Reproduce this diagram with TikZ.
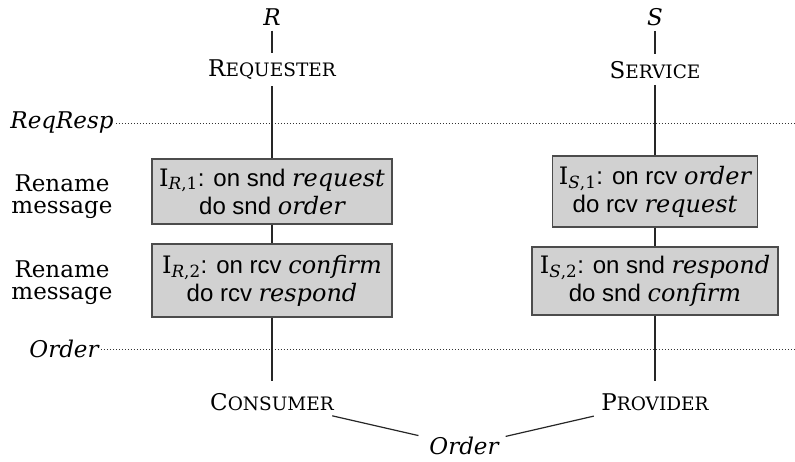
\documentclass[tikz,border=0pt]{standalone}
\usepackage{fontspec}
\setmainfont{DejaVu Serif}
\newfontfamily\sansf{Liberation Sans}
\newcommand\msgw[1]{{\rmfamily\itshape #1}}
\newcommand\fsc[2]{#1{\fontsize{18.5}{20}\selectfont #2}}
\begin{document}
\begin{tikzpicture}[x=1pt,y=-1pt,
  every node/.style={font=\fontsize{23}{22}\selectfont, inner sep=2pt},
  lane/.style={line width=1.2pt, draw=black!85},
  sep/.style={line width=1pt, draw=black!80, dash pattern=on 1pt off 2pt},
  ibox/.style={draw=black!70, line width=1.2pt, fill=black!18, align=center,
    font=\sansf\fontsize{24}{28}\selectfont, inner sep=0pt},
  side/.style={align=center, font=\fontsize{23}{22}\selectfont}]
\useasboundingbox (0,0) rectangle (795,461);
% layer labels and separators
\node (rr) at (62,123) {\itshape ReqResp};
\coordinate (rrend) at (795,123);
\draw[sep] (rr.east) -- (rrend);
\node (ol) at (64,349) {\itshape Order};
\coordinate (olend) at (795,349);
\draw[sep] (ol.east) -- (olend);
% left column
\node (R) at (272,17) {\itshape R};
\node (req) at (272,70) {\fsc{R}{EQUESTER}};
\node[ibox, minimum width=240pt, minimum height=65pt] (r1) at (272,191.5)
  {{\rmfamily I\textsubscript{\itshape R\upshape ,1}}: on snd \msgw{request}\\ do snd \msgw{order}};
\node[ibox, minimum width=240pt, minimum height=73pt] (r2) at (272,280.5)
  {{\rmfamily I\textsubscript{\itshape R\upshape ,2}}: on rcv \msgw{confirm}\\ do rcv \msgw{respond}};
\node (cons) at (272,402) {\fsc{C}{ONSUMER}};
% right column
\node (S) at (655,17) {\itshape S};
\node (serv) at (655,70) {\fsc{S}{ERVICE}};
\node[ibox, minimum width=205pt, minimum height=71pt] (s1) at (655,191.5)
  {{\rmfamily I\textsubscript{\itshape S\upshape ,1}}: on rcv \msgw{order}\\ do rcv \msgw{request}};
\node[ibox, minimum width=246pt, minimum height=68pt] (s2) at (655,281)
  {{\rmfamily I\textsubscript{\itshape S\upshape ,2}}: on snd \msgw{respond}\\ do snd \msgw{confirm}};
\node (prov) at (655,402) {\fsc{P}{ROVIDER}};
% side labels
\node[side] (rn1) at (62,197) {Rename\\message};
\node[side] (rn2) at (62,283) {Rename\\message};
% bottom
\node (ord) at (464,446) {\itshape Order};
% connectors
\draw[lane, shorten <=3pt, shorten >=5pt] (R) -- (req);
\draw[lane, shorten <=4pt] (req) -- (r1);
\draw[lane] (r1) -- (r2);
\draw[lane, shorten >=10pt] (r2) -- (cons);
\draw[lane, shorten <=3pt, shorten >=5pt] (S) -- (serv);
\draw[lane, shorten <=4pt] (serv) -- (s1);
\draw[lane] (s1) -- (s2);
\draw[lane, shorten >=10pt] (s2) -- (prov);
\draw[lane, shorten <=13pt, shorten >=9pt] (cons) -- (ord);
\draw[lane, shorten <=15pt, shorten >=5pt] (prov) -- (ord);
\end{tikzpicture}
\end{document}
